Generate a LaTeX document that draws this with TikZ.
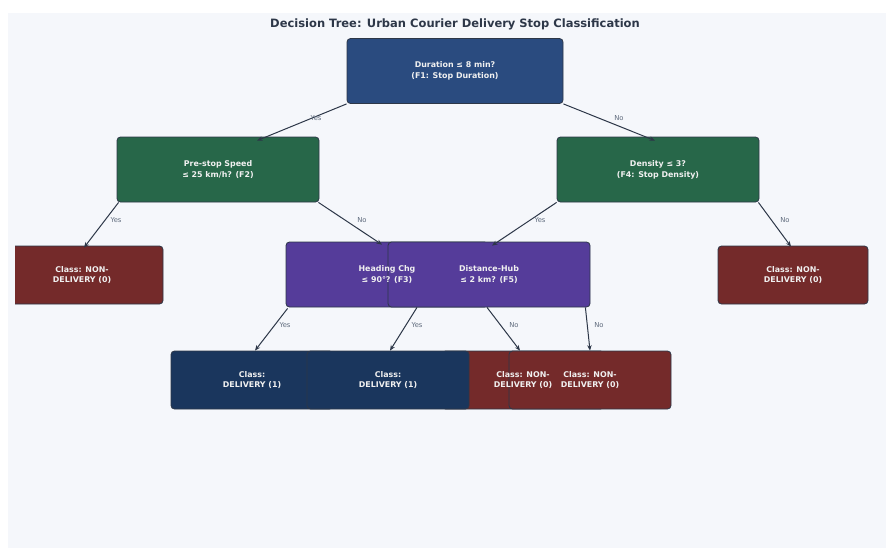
\documentclass[tikz,border=0pt]{standalone}
\usepackage{fontspec}
\setmainfont{DejaVu Sans}
\usetikzlibrary{calc,arrows.meta}
\definecolor{panel}{HTML}{F5F7FB}
\definecolor{rootc}{HTML}{2A4B7F}
\definecolor{greenc}{HTML}{276749}
\definecolor{purplec}{HTML}{553C9A}
\definecolor{redc}{HTML}{742A2A}
\definecolor{bluec}{HTML}{1A365D}
\definecolor{edgec}{HTML}{2D3748}
\definecolor{labc}{HTML}{5F6B7D}
\tikzset{
  box/.style={draw=edgec, line width=0.8pt, rounded corners=3.5pt, inner sep=0pt},
  inner/.style={box, minimum height=65pt},
  leaf/.style={box, minimum height=58pt},
  txt/.style={text=white!94!black, font=\fontsize{7.9}{10.8}\selectfont\bfseries, align=center, inner sep=0pt},
  conn/.style={draw=edgec, line width=1pt, -{Stealth[length=5.5pt,width=4.5pt]}},
  elab/.style={text=labc, font=\fontsize{6.8}{8}\selectfont, inner sep=0pt},
}
\begin{document}
\begin{tikzpicture}[x=1pt,y=-1pt]
\useasboundingbox (0,0) rectangle (886,550);
\fill[white] (0,0) rectangle (886,550);
\fill[panel] (8,13) rectangle (886,548);
\node[font=\fontsize{11.5}{13}\selectfont\bfseries, text=edgec] (title) at (455,24) {Decision Tree: Urban Courier Delivery Stop Classification};
% boxes
\node[inner, fill=rootc, minimum width=216pt] (root) at (455,71) {};
\node[inner, fill=greenc, minimum width=202pt] (f2) at (218,169.5) {};
\node[inner, fill=greenc, minimum width=202pt] (f4) at (658,169.5) {};
\begin{scope}
\clip (15,0) rectangle (886,550);
\node[leaf, fill=redc, minimum width=162pt] (leafL) at (82,275) {};
\end{scope}
\node[leaf, fill=redc, minimum width=150pt] (leafR) at (793,275) {};
\node[inner, fill=purplec, minimum width=202pt] (f3) at (387,274.5) {};
\node[inner, fill=purplec, minimum width=202pt] (f5) at (489,274.5) {};
\node[leaf, fill=bluec, minimum width=162pt] (leaf1) at (252,380) {};
\node[leaf, fill=redc, minimum width=162pt] (leaf3) at (523,380) {};
\node[leaf, fill=bluec, minimum width=162pt] (leaf2) at (388,380) {};
\node[leaf, fill=redc, minimum width=162pt] (leaf4) at (590,380) {};
% texts
\node[txt] (troot) at (root.center) {Duration ≤ 8 min?\\(F1: Stop Duration)};
\node[txt] (tf2) at (f2.center) {Pre-stop Speed\\≤ 25 km/h? (F2)};
\node[txt] (tf4) at (f4.center) {Density ≤ 3?\\(F4: Stop Density)};
\node[txt] (tleafL) at (82,275) {Class: NON-\\DELIVERY (0)};
\node[txt] (tleafR) at (leafR.center) {Class: NON-\\DELIVERY (0)};
\node[txt] (tf3) at (f3.center) {Heading Chg\\≤ 90°? (F3)};
\node[txt] (tf5) at (f5.center) {Distance-Hub\\≤ 2 km? (F5)};
\node[txt] (tleaf1) at (leaf1.center) {Class:\\DELIVERY (1)};
\node[txt] (tleaf2) at (leaf2.center) {Class:\\DELIVERY (1)};
\node[txt] (tleaf3) at (leaf3.center) {Class: NON-\\DELIVERY (0)};
\node[txt] (tleaf4) at (leaf4.center) {Class: NON-\\DELIVERY (0)};
% connectors
\draw[conn] (root.south west) -- ($(f2.north)+(39,4)$);
\draw[conn] (root.south east) -- ($(f4.north)+(-3,4)$);
\draw[conn] ($(f2.south west)+(2,0)$) -- ($(leafL.north)+(2,2)$);
\draw[conn] ($(f2.south east)+(-1,0)$) -- ($(f3.north)+(-5,3)$);
\draw[conn] ($(f4.south west)+(0,0)$) -- ($(f5.north)+(3,4)$);
\draw[conn] ($(f4.south east)+(-1,0)$) -- ($(leafR.north)+(-2,1)$);
\draw[conn] ($(f3.south west)+(2,1)$) -- ($(leaf1.north)+(3,0)$);
\draw[conn] ($(f3.south)+(30,0)$) -- ($(leaf2.north)+(2,0)$);
\draw[conn] ($(f5.south)+(-2,0)$) -- ($(leaf3.north)+(-3,0)$);
\draw[conn] ($(f5.south east)+(-5,0)$) -- ($(leaf4.north)+(0,0)$);
% edge labels
\node[elab] (l1) at (316,118) {Yes};
\node[elab] (l2) at (619,118) {No};
\node[elab] (l3) at (116,220) {Yes};
\node[elab] (l4) at (362,220) {No};
\node[elab] (l5) at (540,220) {Yes};
\node[elab] (l6) at (785,220) {No};
\node[elab] (l7) at (285,325) {Yes};
\node[elab] (l8) at (417,325) {Yes};
\node[elab] (l9) at (514,325) {No};
\node[elab] (l10) at (599,325) {No};
\end{tikzpicture}
\end{document}
